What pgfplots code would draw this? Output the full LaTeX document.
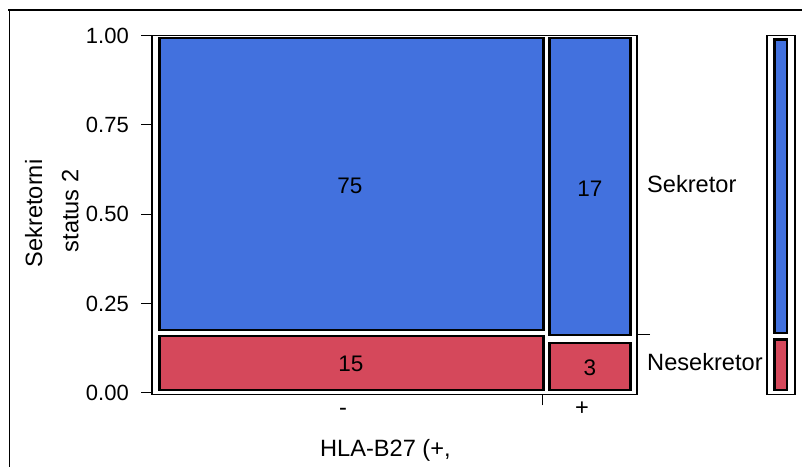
\documentclass[border=0pt]{standalone}
\usepackage{pgfplots}
\pgfplotsset{compat=1.18}
\usepackage{fontspec}
\setmainfont{Liberation Sans}
\definecolor{cblue}{RGB}{66,113,222}
\definecolor{cred}{RGB}{213,72,91}
\begin{document}
\begin{tikzpicture}[x=1pt,y=1pt]
\fontsize{23.6}{28}\selectfont
\path[use as bounding box] (0pt,0pt) rectangle (802pt,467pt);
% outer frame
\draw[line width=1.5pt] (8pt,457pt) -- (802pt,457pt);
\draw[line width=1.5pt] (9.3pt,457pt) -- (9.3pt,0pt);
% main mosaic
\begin{axis}[
  at={(152pt,72.7pt)}, anchor=south west,
  scale only axis, width=485pt, height=358.6pt,
  xmin=0, xmax=1, ymin=-0.0045, ymax=1,
  clip=false,
  axis line style={line width=1.3pt},
  ytick={0,0.25,0.5,0.75,1},
  yticklabels={0.00,0.25,0.50,0.75,1.00},
  ytick pos=left, xtick pos=bottom,
  xtick={0.8056}, xticklabels={{}},
  tick align=outside,
  major tick length=11pt,
  tick style={line width=1.1pt, black},
  yticklabel style={font=\fontsize{22}{26}\selectfont, inner sep=0pt, xshift=-12pt},
  /pgf/number format/assume math mode=true,
]
\addplot[fill=cblue, draw=black, line width=2.4pt, line join=miter]
  coordinates {(0.0155,0.1756) (0.8072,0.1756) (0.8072,0.9936) (0.0155,0.9936)} -- cycle;
\addplot[fill=cred, draw=black, line width=2.4pt, line join=miter]
  coordinates {(0.0155,0.0076) (0.8072,0.0076) (0.8072,0.158) (0.0155,0.158)} -- cycle;
\addplot[fill=cblue, draw=black, line width=2.4pt, line join=miter]
  coordinates {(0.8196,0.1608) (0.9866,0.1608) (0.9866,0.9936) (0.8196,0.9936)} -- cycle;
\addplot[fill=cred, draw=black, line width=2.4pt, line join=miter]
  coordinates {(0.8196,0.0076) (0.9866,0.0076) (0.9866,0.1392) (0.8196,0.1392)} -- cycle;
\addplot[only marks, mark=none, nodes near coords, point meta=explicit symbolic,
  nodes near coords style={anchor=center, font=\fontsize{22.5}{26}\selectfont, inner sep=0pt}]
  coordinates {(0.408,0.58)[75] (0.903,0.570)[17] (0.410,0.080)[15] (0.903,0.069)[3]};
\end{axis}
% right-side tick of the main mosaic
\begin{axis}[
  at={(152pt,72.7pt)}, anchor=south west,
  scale only axis, width=485pt, height=358.6pt,
  xmin=0, xmax=1, ymin=-0.0045, ymax=1,
  hide x axis, axis y line*=right, axis line style={draw=none},
  ytick={0.1636}, yticklabels={{}},
  tick align=outside, major tick length=13pt,
  tick style={line width=1.1pt, black},
]
\addplot[draw=none] coordinates {(0,0) (1,1)};
\end{axis}
% marginal bar
\begin{axis}[
  at={(767pt,72.7pt)}, anchor=south west,
  scale only axis, width=28pt, height=358.6pt,
  xmin=0, xmax=1, ymin=-0.0045, ymax=1,
  clip=false,
  axis line style={line width=1.3pt},
  xtick=\empty, ytick=\empty,
]
\addplot[fill=cblue, draw=black, line width=2.4pt, line join=miter]
  coordinates {(0.268,0.1672) (0.714,0.1672) (0.714,0.9888) (0.268,0.9888)} -- cycle;
\addplot[fill=cred, draw=black, line width=2.4pt, line join=miter]
  coordinates {(0.268,0.0076) (0.714,0.0076) (0.714,0.149) (0.268,0.149)} -- cycle;
\end{axis}
% text labels
\node[anchor=base west, inner sep=0pt] at (647pt,274.3pt) {Sekretor};
\node[anchor=base west, inner sep=0pt] at (647pt,97pt) {Nesekretor};
\node[anchor=base, inner sep=0pt] at (343pt,52pt) {-};
\node[anchor=base, inner sep=0pt] at (582pt,52pt) {+};
\node[anchor=base west, inner sep=0pt] at (320pt,10.3pt) {HLA-B27 (+,};
\node[rotate=90, anchor=base, inner sep=0pt] at (42pt,253.5pt) {Sekretorni};
\node[rotate=90, anchor=base, inner sep=0pt] at (78.3pt,256pt) {status 2};
\end{tikzpicture}
\end{document}
